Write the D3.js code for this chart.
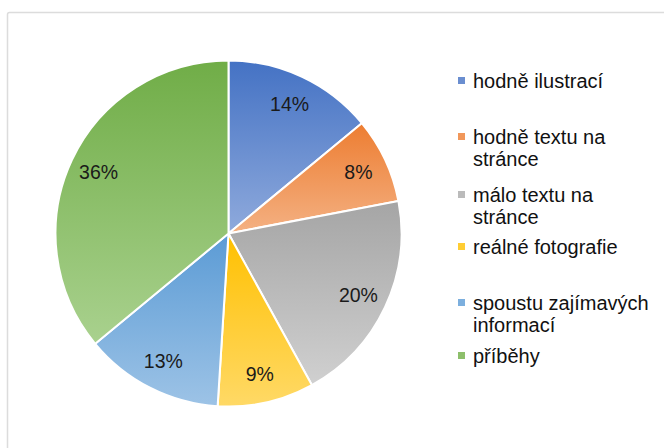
<!DOCTYPE html>
<html>
<head>
<meta charset="utf-8">
<script src="https://cdn.jsdelivr.net/npm/d3@7"></script>
<style>
  html, body { margin: 0; padding: 0; background: #fff; }
  svg { display: block; }
</style>
</head>
<body>
<svg id="chart" width="664" height="448"></svg>
<script>
const categories = ["hodně ilustrací", "hodně textu na stránce", "málo textu na stránce", "reálné fotografie", "spoustu zajímavých informací", "příběhy"];
const legendLines = [["hodně ilustrací"], ["hodně textu na", "stránce"], ["málo textu na", "stránce"], ["reálné fotografie"], ["spoustu zajímavých", "informací"], ["příběhy"]];
const values = [14, 8, 20, 9, 13, 36];
const labels = ["14%", "8%", "20%", "9%", "13%", "36%"];
const topColors = ["#4472c4", "#ed7d31", "#a5a5a5", "#ffc000", "#5b9bd5", "#70ad47"];
const bottomColors = ["#8faadc", "#f4b183", "#d0d0d0", "#ffd966", "#9dc3e6", "#a9d18e"];

const svg = d3.select("#chart");
const font = "'Liberation Sans', Arial, Helvetica, sans-serif";

// frame
svg.append("rect").attr("x", 7.5).attr("y", 12.5).attr("width", 700).attr("height", 500)
  .attr("rx", 2).attr("fill", "#fff").attr("stroke", "#dcdcdc").attr("stroke-width", 1.5);

const defs = svg.append("defs");
categories.forEach((c, i) => {
  const g = defs.append("linearGradient").attr("id", "grad" + i)
    .attr("x1", 0).attr("y1", 0).attr("x2", 0).attr("y2", 1);
  g.append("stop").attr("offset", "0%").attr("stop-color", topColors[i]);
  g.append("stop").attr("offset", "100%").attr("stop-color", bottomColors[i]);
});

const cx = 228.5, cy = 233.5, r = 173;
const pie = d3.pie().sort(null).value(d => d)(values);
const arc = d3.arc().innerRadius(0).outerRadius(r);
const labelArc = d3.arc().innerRadius(r * 0.83).outerRadius(r * 0.83);

const g = svg.append("g").attr("transform", `translate(${cx},${cy})`);
g.selectAll("path.slice").data(pie).enter().append("path")
  .attr("class", "slice")
  .attr("d", arc)
  .attr("fill", (d, i) => `url(#grad${i})`)
  .attr("stroke", "#fff").attr("stroke-width", 2).attr("stroke-linejoin", "round");

g.selectAll("text.lbl").data(pie).enter().append("text")
  .attr("class", "lbl")
  .attr("transform", d => `translate(${labelArc.centroid(d)})`)
  .attr("text-anchor", "middle").attr("dy", "0.36em")
  .attr("font-family", font).attr("font-size", 19.5).attr("fill", "#1a1a1a")
  .text((d, i) => labels[i]);

// legend
const baselines = [[88], [144, 166], [202, 224], [254], [310, 332], [363]];
const lg = svg.append("g");
legendLines.forEach((lines, i) => {
  lg.append("rect").attr("x", 458).attr("y", baselines[i][0] - 11).attr("width", 7).attr("height", 7)
    .attr("fill", d3.interpolateRgb(topColors[i], bottomColors[i])(0.5));
  lines.forEach((t, j) => {
    lg.append("text").attr("x", 473).attr("y", baselines[i][j])
      .attr("font-family", font).attr("font-size", 20).attr("fill", "#111")
      .text(t);
  });
});
</script>
</body>
</html>
